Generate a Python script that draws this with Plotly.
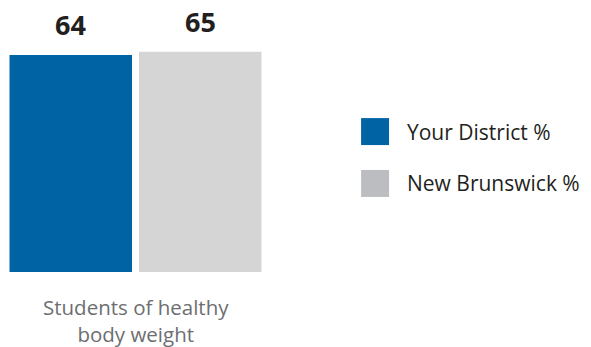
import plotly.graph_objects as go

series = ["Your District %", "New Brunswick %"]
values = [64, 65]
category_label = "Students of healthy<br>body weight"
bar_colors = ["#0064A4", "#D5D5D5"]
legend_colors = ["#0064A4", "#BCBDC0"]

FONT = "Open Sans"
fig = go.Figure()
for name, v, c in zip(series, values, bar_colors):
    fig.add_trace(go.Bar(x=[name], y=[v], marker=dict(color=c, line=dict(width=0)),
                         showlegend=False, hoverinfo="skip"))
    fig.add_annotation(x=name, y=v, xref="x", yref="y", text=f"<b>{v}</b>",
                       showarrow=False, yanchor="bottom", yshift=10,
                       font=dict(family=FONT, size=27, color="#231F20"))

# category label below bars
fig.add_annotation(x=0.5, xref="paper", y=0, yref="paper", yanchor="top", yshift=-19,
                   text=category_label, showarrow=False, align="center",
                   font=dict(family=FONT, size=20.5, color="#6D6E71"))

# custom legend
leg_y = [0.536, 0.338]
for name, c, ly in zip(series, legend_colors, leg_y):
    fig.add_shape(type="rect", xref="paper", yref="paper",
                  x0=1.371, x1=1.479, y0=ly - 0.0515, y1=ly + 0.0515,
                  fillcolor=c, line=dict(width=0))
    fig.add_annotation(x=1.54, xref="paper", y=ly, yref="paper", xanchor="left",
                       yanchor="middle", text=name, showarrow=False,
                       font=dict(family=FONT, size=21, color="#231F20"))

fig.update_layout(
    width=591, height=347,
    margin=dict(l=5.5, r=325.5, t=10, b=75),
    barmode="overlay", bargap=0.054,
    plot_bgcolor="white", paper_bgcolor="white",
    xaxis=dict(showticklabels=False, showgrid=False, zeroline=False, showline=False,
               fixedrange=True),
    yaxis=dict(range=[0, 77.3], visible=False, fixedrange=True),
)
fig.write_html("out.html")
